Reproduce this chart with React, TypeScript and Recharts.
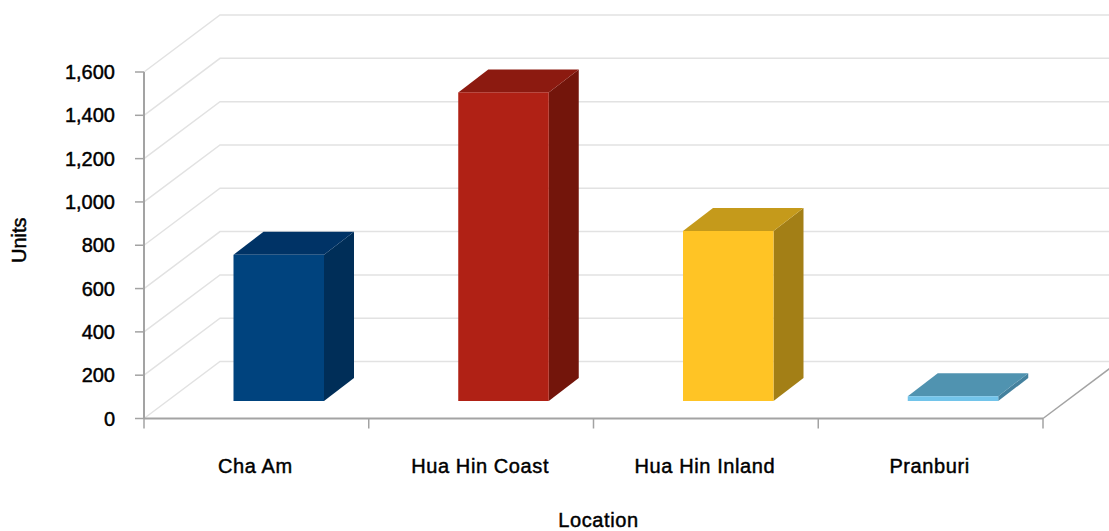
import { BarChart, Bar, XAxis, YAxis, CartesianGrid } from "recharts";

const locations = ["Cha Am", "Hua Hin Coast", "Hua Hin Inland", "Pranburi"];
const units = [675, 1425, 785, 22];
const unitTicks = [0, 200, 400, 600, 800, 1000, 1200, 1400, 1600];

const data = locations.map((name, i) => ({ name, units: units[i] }));

const FRONT = ["#00437e", "#b02115", "#ffc425", "#72c4ea"];
const TOP = ["#003366", "#8c1a10", "#c59a1b", "#5093b0"];
const SIDE = ["#002e58", "#73150b", "#a37f16", "#44819e"];

const AXIS = "#a3a3a3";
const GRID = "#e2e2e2";

const LABEL_STYLE = {
  fontFamily: "'Liberation Sans', Arial, sans-serif",
  fontSize: 20,
  fill: "#000",
  stroke: "#000",
  strokeWidth: 0.45,
};
const TITLE_STYLE = { ...LABEL_STYLE, letterSpacing: 0.6 };

// fake perspective: the box floor runs up and to the right
const WALL_DX = 76;
const WALL_DY = 57;
// bars sit part way into the floor
const BAR_OFFSET_X = 22.5;
const BAR_OFFSET_Y = 17.5;
const BAR_DEPTH_X = 30;
const BAR_DEPTH_Y = 23;

function WallLine({ x1, y1, x2, y2, index }: any) {
  return (
    <g>
      <polyline
        points={`${x1},${y1} ${x1 + WALL_DX},${y1 - WALL_DY} ${x2 + WALL_DX},${y2 - WALL_DY}`}
        fill="none"
        stroke={GRID}
        strokeWidth={1.5}
      />
      {index === 0 && (
        <line x1={x2} y1={y2} x2={x2 + WALL_DX} y2={y2 - WALL_DY} stroke={AXIS} strokeWidth={1.5} />
      )}
    </g>
  );
}

function Box3D({ x, y, width, height, index }: any) {
  const l = x + BAR_OFFSET_X;
  const r = l + width;
  const t = y - BAR_OFFSET_Y;
  const b = t + height;
  const dx = BAR_DEPTH_X;
  const dy = BAR_DEPTH_Y;
  return (
    <g>
      <polygon points={`${r},${t} ${r + dx},${t - dy} ${r + dx},${b - dy} ${r},${b}`} fill={SIDE[index]} />
      <polygon points={`${l},${t} ${l + dx},${t - dy} ${r + dx},${t - dy} ${r},${t}`} fill={TOP[index]} />
      <rect x={l} y={t} width={width} height={height} fill={FRONT[index]} />
    </g>
  );
}

// ticks fall on the category boundaries, labels stay centred in the band
function CategoryTick({ x, y, payload, index }: any) {
  const band = 899 / locations.length;
  const left = x - band / 2;
  const axisY = y - 8; // recharts hands over y after its default tick size and margin
  return (
    <g>
      <line x1={left} y1={axisY} x2={left} y2={axisY + 10} stroke={AXIS} strokeWidth={1.5} />
      {index === locations.length - 1 && (
        <line x1={left + band} y1={axisY} x2={left + band} y2={axisY + 10} stroke={AXIS} strokeWidth={1.5} />
      )}
      <text x={x - 1} y={axisY + 54} textAnchor="middle" style={TITLE_STYLE}>
        {payload.value}
      </text>
    </g>
  );
}

export default function App() {
  return (
    <div style={{ position: "absolute", left: 0, top: 0, width: 1109, height: 531, background: "#fff" }}>
      <BarChart width={1109} height={531} data={data} margin={{ top: 72, right: 66, bottom: 0, left: 0 }} barSize={90.5}>
        <CartesianGrid vertical={false} horizontal={(props: any) => <WallLine key={props.key} {...props} />} />
        <XAxis
          dataKey="name"
          height={112.5}
          interval={0}
          axisLine={{ stroke: AXIS, strokeWidth: 2 }}
          tickLine={false}
          tick={CategoryTick}
          label={{
            value: "Location",
            position: "insideBottom",
            dx: 5,
            offset: 4,
            style: TITLE_STYLE,
          }}
        />
        <YAxis
          width={144}
          domain={[0, 1600]}
          ticks={unitTicks}
          interval={0}
          tickFormatter={(v: number) => v.toLocaleString("en-US")}
          axisLine={{ stroke: AXIS, strokeWidth: 2 }}
          tickLine={{ stroke: AXIS, strokeWidth: 1.5 }}
          tickSize={9}
          tickMargin={20}
          tick={LABEL_STYLE}
          label={{
            value: "Units",
            angle: -90,
            position: "insideLeft",
            dx: 14,
            dy: -5,
            style: { ...LABEL_STYLE, textAnchor: "middle" },
          }}
        />
        <Bar dataKey="units" isAnimationActive={false} shape={Box3D} />
      </BarChart>
    </div>
  );
}
